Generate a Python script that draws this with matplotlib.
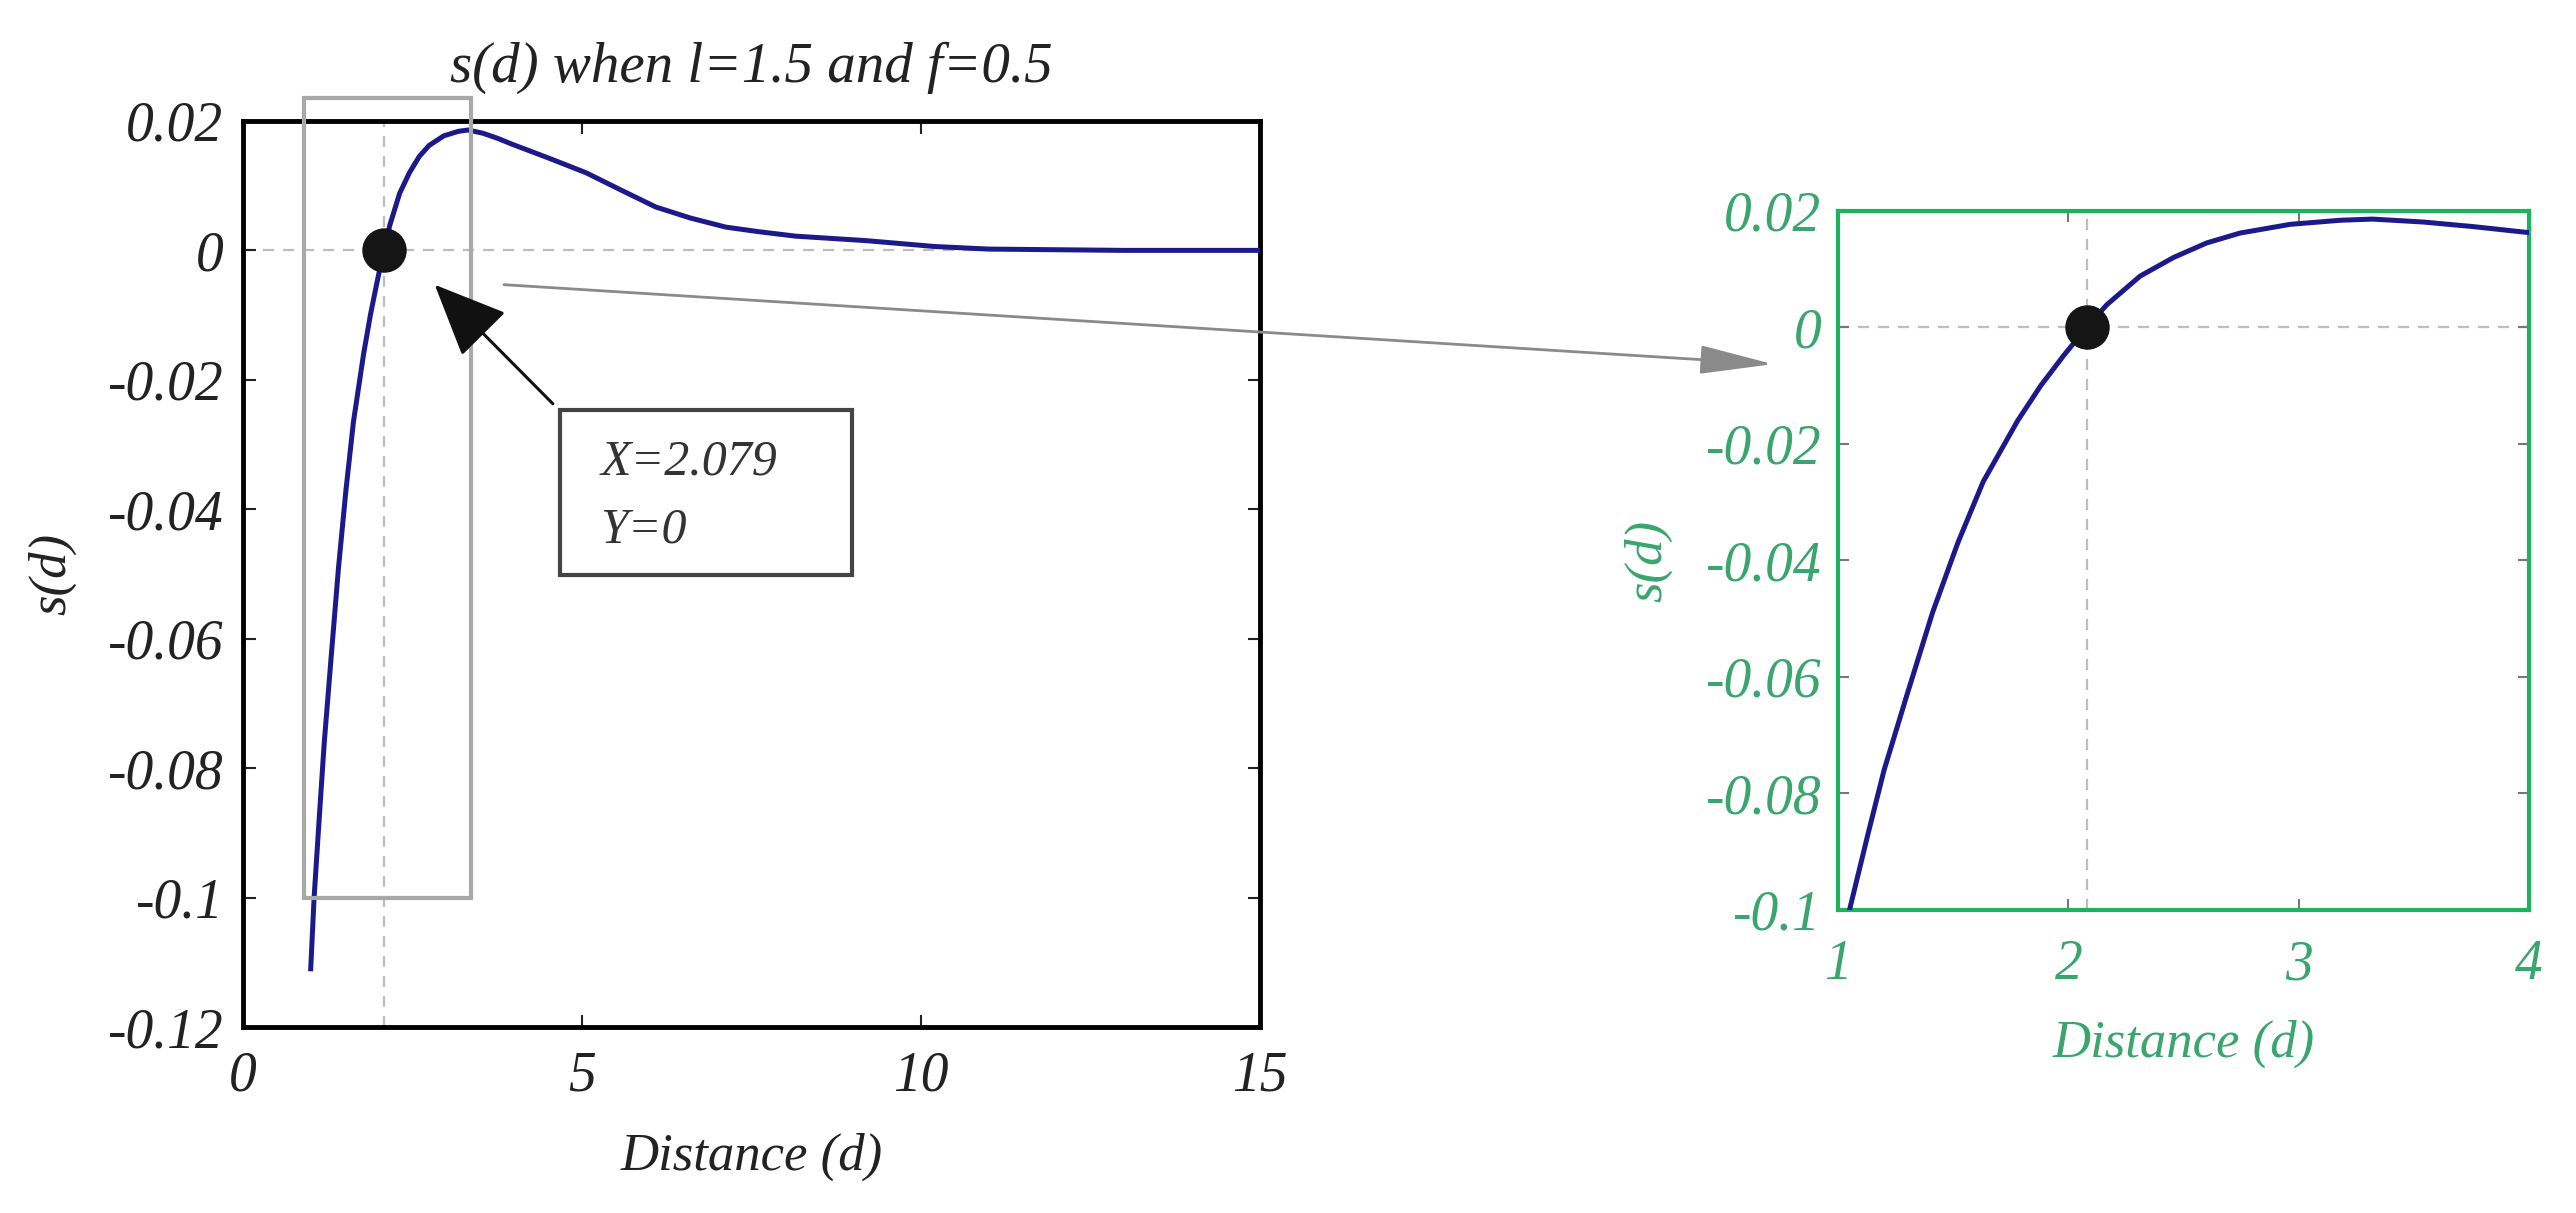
import matplotlib
matplotlib.use('Agg')
import matplotlib.pyplot as plt
from matplotlib.patches import Rectangle, ConnectionPatch

# s(d)
distance = [1.00, 1.05, 1.13, 1.20, 1.30, 1.41, 1.52, 1.63, 1.78, 1.88, 1.98, 2.079,
            2.167, 2.311, 2.456, 2.60, 2.745, 2.963, 3.18, 3.32, 3.54, 3.76, 3.97,
            4.5, 5.06, 5.6, 6.09, 6.6, 7.12, 7.6, 8.15, 9.2, 10.2, 11.0, 12.0, 13.0, 14.0, 15.0]
s_d = [-0.111, -0.100, -0.087, -0.076, -0.063, -0.049, -0.037, -0.0265, -0.0160, -0.0100, -0.0048, 0.0,
       0.0039, 0.0088, 0.0120, 0.0145, 0.0162, 0.0177, 0.0184, 0.0186, 0.0181, 0.0173, 0.0164,
       0.0143, 0.0120, 0.0092, 0.0067, 0.0050, 0.0036, 0.0029, 0.0022, 0.0015, 0.0006, 0.0002,
       0.0001, 0.0, 0.0, 0.0]
root_x, root_y = 2.079, 0.0

left_xticks = [0, 5, 10, 15]
left_yticks = [-0.12, -0.1, -0.08, -0.06, -0.04, -0.02, 0, 0.02]
left_yticklabels = ['-0.12', '-0.1', '-0.08', '-0.06', '-0.04', '-0.02', '0', '0.02']
zoom_xticks = [1, 2, 3, 4]
zoom_yticks = [-0.1, -0.08, -0.06, -0.04, -0.02, 0, 0.02]
zoom_yticklabels = ['-0.1', '-0.08', '-0.06', '-0.04', '-0.02', '0', '0.02']

plt.rcParams['font.family'] = ['Liberation Serif', 'DejaVu Serif']
plt.rcParams['font.style'] = 'italic'

curve_color = '#1c1a8a'
green = '#1db35a'
green_text = '#3aa56c'
grid_color = '#bdbdbd'

fig = plt.figure(figsize=(25.76, 12.13), dpi=100)
ax = fig.add_axes([0.0943, 0.1533, 0.3948, 0.747])
ax2 = fig.add_axes([0.7135, 0.2498, 0.2683, 0.5763])

# main plot
ax.axhline(0, color=grid_color, lw=1.6, ls=(0, (5, 4)), zorder=1)
ax.axvline(root_x, color=grid_color, lw=1.6, ls=(0, (5, 4)), zorder=1)
ax.plot(distance, s_d, color=curve_color, lw=3.6, zorder=3)
ax.plot([root_x], [root_y], 'o', color='#151515', markersize=31, zorder=5)
ax.add_patch(Rectangle((0.9, -0.1), 2.47, 0.1235, fill=False, edgecolor='#a8a8a8',
                       lw=3, clip_on=False, zorder=4))
ax.set_xlim(0, 15)
ax.set_ylim(-0.12, 0.02)
ax.set_xticks(left_xticks)
ax.set_xticklabels([str(t) for t in left_xticks])
ax.set_yticks(left_yticks)
ax.set_yticklabels(left_yticklabels)
ax.tick_params(direction='in', length=9, width=1.5, top=True, right=True,
               labelsize=40, colors='#222222')
ax.tick_params(axis='y', pad=14)
ax.tick_params(axis='x', pad=17)
for sp in ax.spines.values():
    sp.set_linewidth(3.5)
    sp.set_color('black')
ax.set_title('s(d) when l=1.5 and f=0.5', fontsize=41, pad=28, color='#222222')
ax.set_xlabel('Distance (d)', fontsize=38, color='#222222')
ax.set_ylabel('s(d)', fontsize=38, color='#222222')
ax.xaxis.set_label_coords(0.5, -0.117)
ax.yaxis.set_label_coords(-0.164, 0.5)

# data-tip box and its arrow
ax.add_patch(Rectangle((4.68, -0.0502), 4.30, 0.0255, facecolor='white',
                       edgecolor='#444444', lw=3, zorder=6))
ax.text(5.27, -0.0328, 'X=2.079', fontsize=36, va='center', ha='left', color='#333333', zorder=7)
ax.text(5.27, -0.0432, 'Y=0', fontsize=36, va='center', ha='left', color='#333333', zorder=7)
ax.annotate('', xy=(2.80, -0.005), xytext=(4.60, -0.0240),
            arrowprops=dict(arrowstyle='-|>,head_length=2.3,head_width=1.0',
                            mutation_scale=20, color='#111111', lw=2.2), zorder=6)

# zoomed plot
ax2.axhline(0, color=grid_color, lw=1.6, ls=(0, (5, 4)), zorder=1)
ax2.axvline(root_x, color=grid_color, lw=1.6, ls=(0, (5, 4)), zorder=1)
ax2.plot(distance, s_d, color=curve_color, lw=3.6, zorder=3)
ax2.plot([root_x], [root_y], 'o', color='#151515', markersize=31, zorder=5)
ax2.set_xlim(1, 4)
ax2.set_ylim(-0.1, 0.02)
ax2.set_xticks(zoom_xticks)
ax2.set_xticklabels([str(t) for t in zoom_xticks])
ax2.set_yticks(zoom_yticks)
ax2.set_yticklabels(zoom_yticklabels)
ax2.tick_params(direction='in', length=8, width=1.5, top=True, right=True,
                labelsize=40, colors='#777777', labelcolor=green_text)
ax2.tick_params(axis='y', pad=12)
ax2.tick_params(axis='x', pad=21)
for sp in ax2.spines.values():
    sp.set_linewidth(3)
    sp.set_color(green)
ax2.set_xlabel('Distance (d)', fontsize=38, color=green_text)
ax2.set_ylabel('s(d)', fontsize=38, color=green_text)
ax2.xaxis.set_label_coords(0.5, -0.157)
ax2.yaxis.set_label_coords(-0.240, 0.5)

# gray arrow from main plot to zoom
con = ConnectionPatch(xyA=(3.85, -0.0053), coordsA=ax.transData,
                      xyB=(0.718, -0.0063), coordsB=ax2.transData,
                      arrowstyle='-|>,head_length=2.3,head_width=0.45',
                      mutation_scale=20, color='#8a8a8a', lw=2)
fig.add_artist(con)

fig.savefig('out.png', dpi=100)
